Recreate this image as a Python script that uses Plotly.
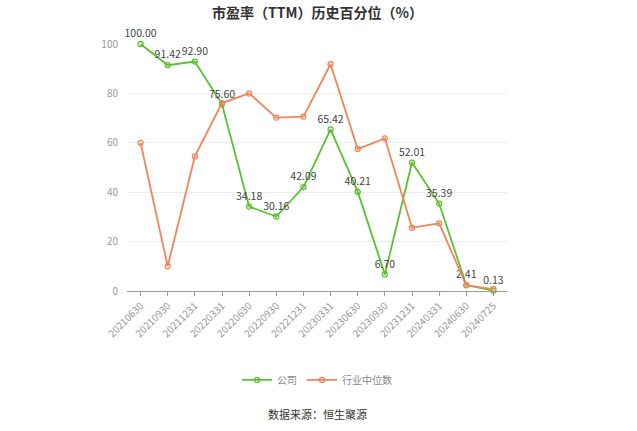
import plotly.graph_objects as go

dates = ["20210630", "20210930", "20211231", "20220331", "20220630", "20220930",
         "20221231", "20230331", "20230630", "20230930", "20231231", "20240331",
         "20240630", "20240725"]
company = [100.00, 91.42, 92.90, 75.60, 34.18, 30.16, 42.09, 65.42, 40.21, 6.70,
           52.01, 35.39, 2.41, 0.13]
industry = [60.0, 10.0, 54.5, 76.1, 80.0, 70.2, 70.6, 91.8, 57.5, 61.8, 25.6, 27.4,
            2.3, 0.8]

green = "#5bc02f"
orange = "#f3845a"
font_family = "Noto Sans CJK SC, Open Sans, sans-serif"

fig = go.Figure()
fig.add_trace(go.Scatter(
    x=dates, y=company, name="公司", mode="lines+markers+text",
    line=dict(color=green, width=1.8),
    marker=dict(symbol="circle-open", size=5, color=green, line=dict(width=1.3)),
    text=[f"{v:.2f}" for v in company], textposition="top center",
    textfont=dict(size=10.5, color="#444", family=font_family),
    cliponaxis=False,
))
fig.add_trace(go.Scatter(
    x=dates, y=industry, name="行业中位数", mode="lines+markers",
    line=dict(color=orange, width=1.8),
    marker=dict(symbol="circle-open", size=5, color=orange, line=dict(width=1.3)),
    cliponaxis=False,
))

fig.update_layout(
    width=637, height=431,
    margin=dict(l=127, r=130, t=44, b=140, autoexpand=False),
    paper_bgcolor="white", plot_bgcolor="white",
    font=dict(family=font_family, color="#666"),
    showlegend=True,
    legend=dict(orientation="h", x=0.5, xanchor="center", y=-0.36, yanchor="middle",
                font=dict(size=10, color="#888"), itemwidth=30),
    xaxis=dict(type="category", tickangle=-45, tickfont=dict(size=10, color="#999"),
               showline=True, linecolor="#999", linewidth=1, automargin=False,
               ticks="outside", ticklen=4, tickcolor="#999", showgrid=False,
               range=[-0.5, len(dates) - 0.5]),
    yaxis=dict(range=[0, 100], tickvals=[0, 20, 40, 60, 80, 100], automargin=False,
               tickfont=dict(size=10, color="#999"), showgrid=True,
               gridcolor="#ececec", gridwidth=1, zeroline=False, showline=False,
               ticks="", ticklabelstandoff=8),
    annotations=[
        dict(text="<b>市盈率（TTM）历史百分位（%）</b>", x=0.5, xref="paper", y=1,
             yref="paper", yshift=32, yanchor="middle", showarrow=False,
             font=dict(size=14, color="#333")),
        dict(text="数据来源：恒生聚源", x=0.5, xref="paper", y=-0.498, yref="paper",
             yanchor="middle", showarrow=False, font=dict(size=11, color="#333")),
    ],
)
fig.write_html("out.html")
